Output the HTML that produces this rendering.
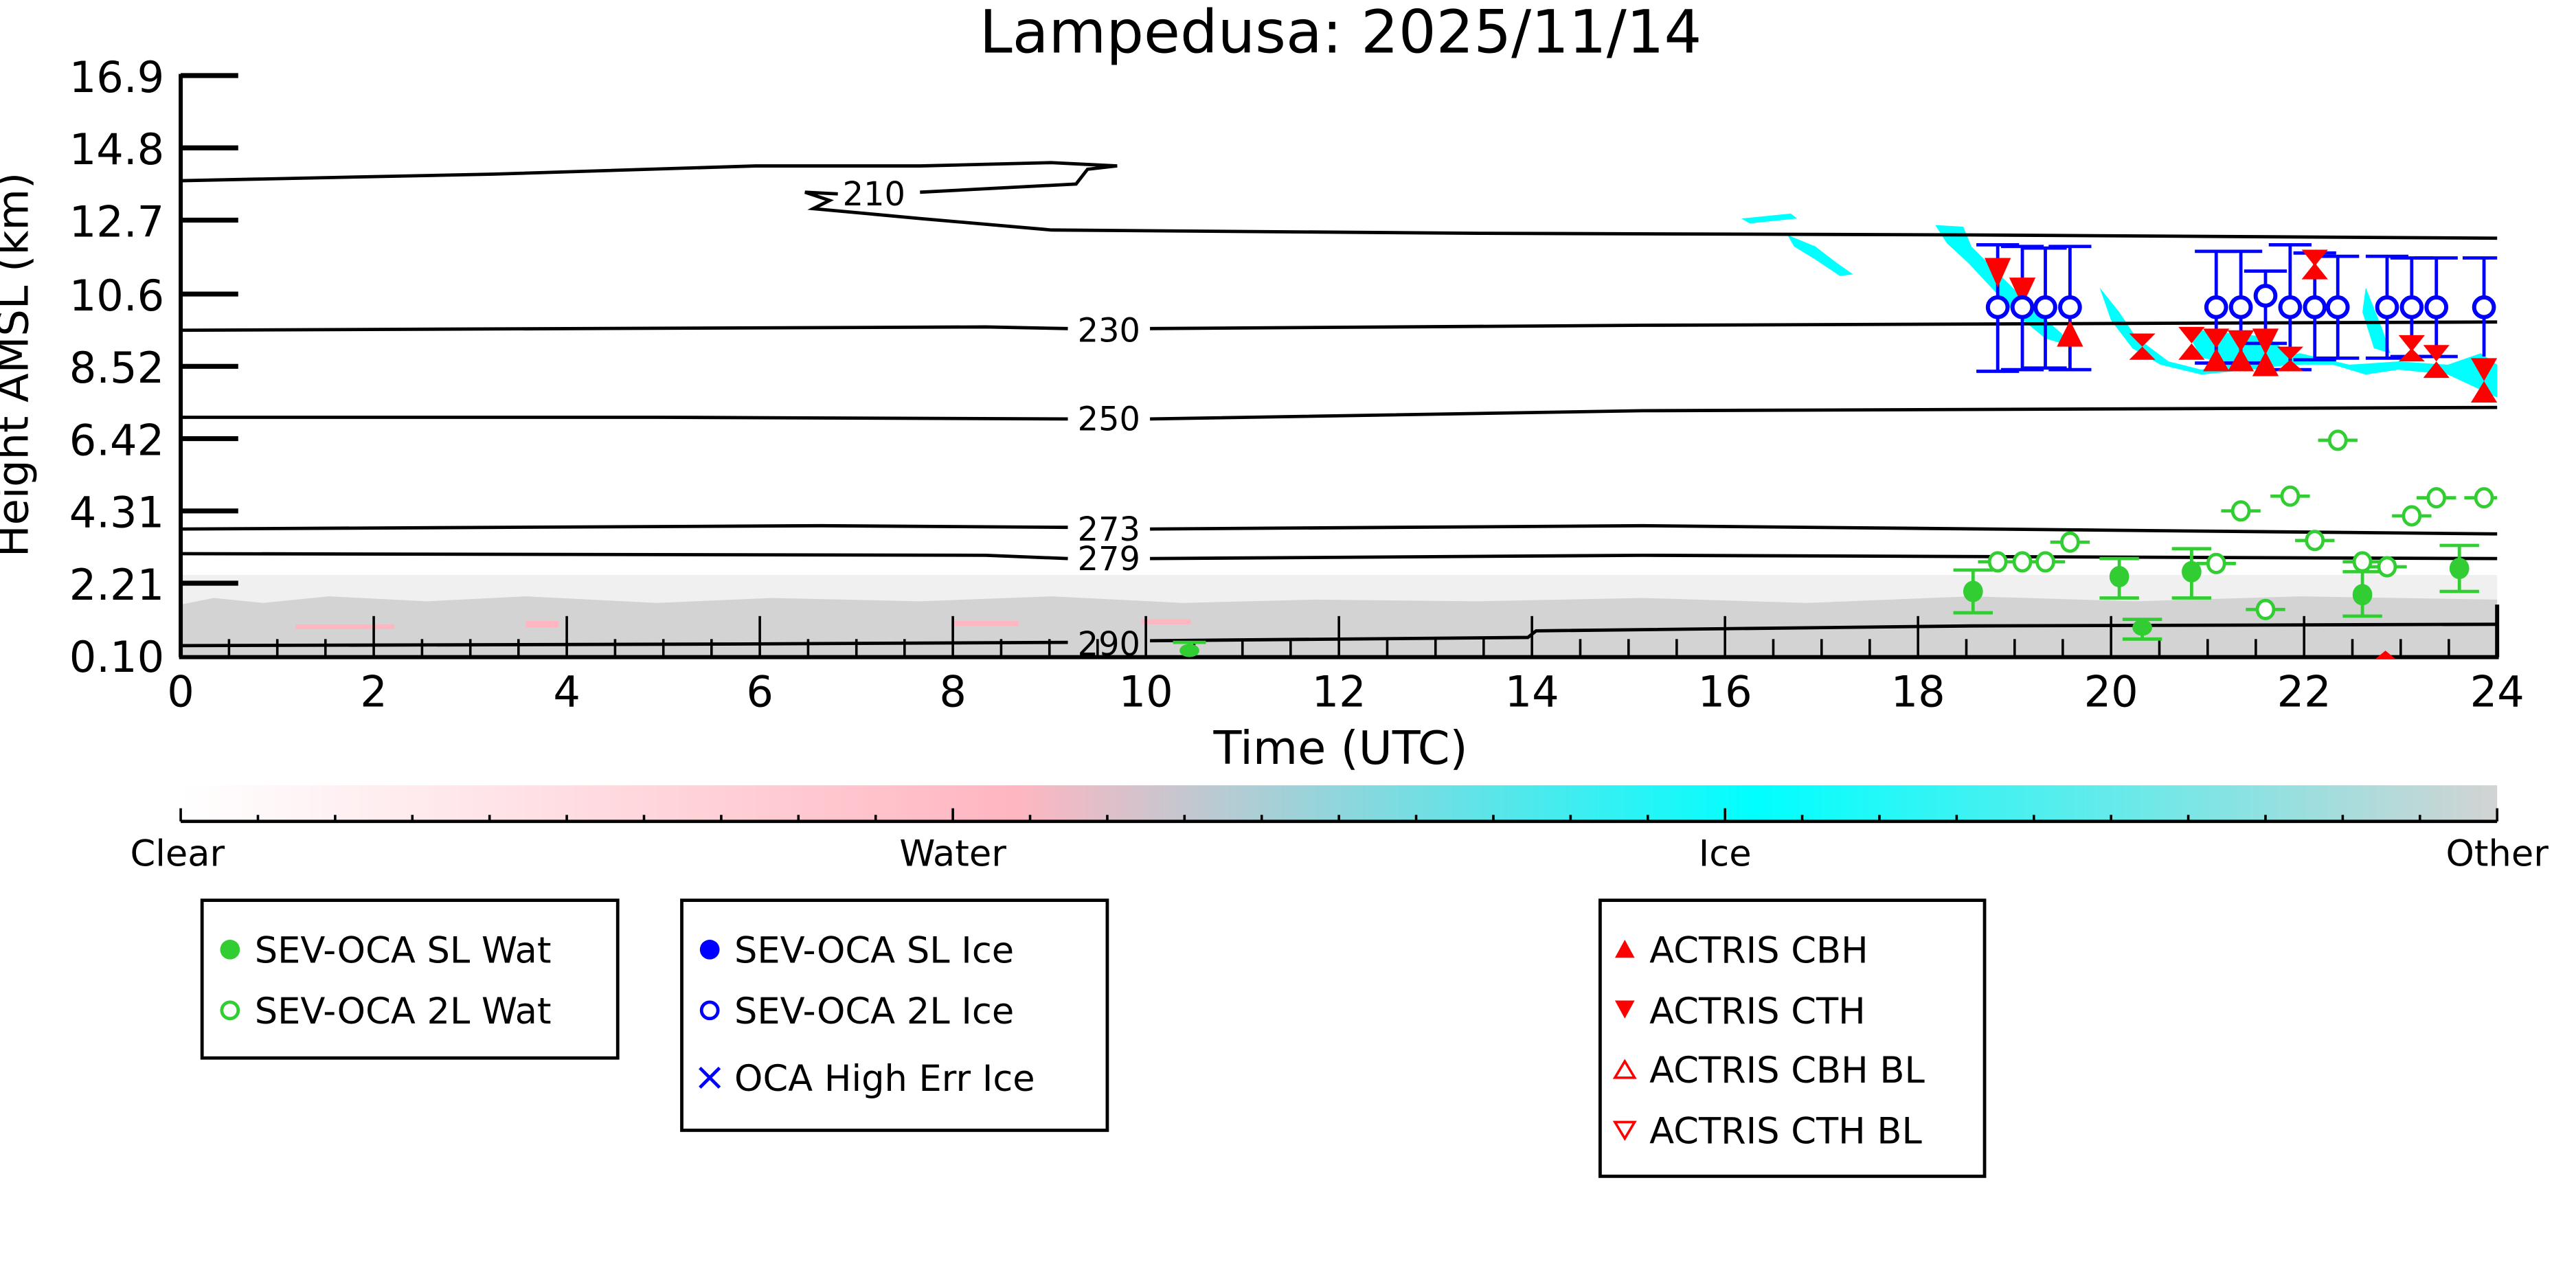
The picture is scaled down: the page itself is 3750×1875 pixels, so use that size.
<!DOCTYPE html>
<html><head><meta charset="utf-8"><style>
html,body{margin:0;padding:0;background:#fff;}
svg{display:block;}
text{font-family:"DejaVu Sans","Liberation Sans",sans-serif;}
</style></head><body>
<svg width="3750" height="1875" viewBox="0 0 1568 784" xmlns="http://www.w3.org/2000/svg">
<defs>
<linearGradient id="cb" x1="0" x2="1" y1="0" y2="0">
<stop offset="0" stop-color="#ffffff"/>
<stop offset="0.36" stop-color="#ffb6c1"/>
<stop offset="0.68" stop-color="#00ffff"/>
<stop offset="1" stop-color="#d3d3d3"/>
</linearGradient>
</defs>
<text x="816" y="32" font-size="36" text-anchor="middle">Lampedusa: 2025/11/14</text>
<!-- gray other band -->
<rect x="110" y="350" width="1410" height="18" fill="#f0f0f0"/>
<path d="M110,368 L130,364 L160,367 L200,363 L260,366 L320,363 L400,367 L470,364 L560,366 L640,363 L720,367 L800,365 L900,366 L1000,364 L1100,367 L1200,363 L1300,366 L1400,363 L1520,365 L1520,399 L110,399 Z" fill="#d3d3d3"/>
<g fill="#ffb6c1"><rect x="180" y="380" width="60" height="3"/><rect x="320" y="378" width="20" height="4"/><rect x="580" y="378" width="40" height="3"/><rect x="695" y="377" width="30" height="3"/></g>
<!-- cyan ice -->
<g fill="#00ffff">
<polygon points="1088,143 1105,150 1118,160 1128,167 1120,168 1105,158 1092,150"/>
<polygon points="1060,133 1090,130 1094,133 1065,136"/>
<polygon points="1178,137 1195,138 1200,150 1210,160 1225,175 1240,190 1255,203 1258,210 1245,206 1228,192 1212,175 1198,160 1185,148"/>
<polygon points="1278,175 1290,190 1300,205 1320,220 1340,225 1360,220 1380,218 1400,215 1430,222 1460,220 1490,222 1510,215 1520,222 1520,242 1505,235 1490,228 1460,225 1440,228 1420,222 1395,222 1370,225 1340,228 1315,222 1298,212 1285,195"/>
<polygon points="1330,200 1380,205 1400,220 1370,222 1340,218"/>
<polygon points="1440,175 1450,200 1455,215 1445,212 1438,190"/>
</g>
<!-- contours -->
<g fill="none" stroke="#000" stroke-width="2">
<path d="M110,110 L300,106 L460,101 L560,101 L640,99 L680,101 L662,103 L655,112 L560,117 M510,118 L490,117 L505,122 L495,127 L560,133 L640,140 L900,142 L1200,143 L1520,145"/>
<path d="M110,201 L600,199 L650,200 M700,200 L1000,198 L1520,196"/>
<path d="M110,254 L400,254 L650,255 M700,255 L1000,250 L1520,248"/>
<path d="M110,322 L500,320 L650,321 M700,322 L1000,320 L1520,325"/>
<path d="M110,337 L600,338 L650,340 M700,340 L1000,338 L1520,340"/>
<path d="M110,393 L450,392 L650,391 M700,390 L930,388 L935,384 L1200,381 L1520,380"/>
</g>
<g font-size="20" text-anchor="middle" fill="#000">
<text x="532" y="125">210</text>
<text x="675" y="208">230</text>
<text x="675" y="262">250</text>
<text x="675" y="329">273</text>
<text x="675" y="347">279</text>
<text x="675" y="399">290</text>
</g>
<!-- axes -->
<g stroke="#000" stroke-width="2.5">
<line x1="110" y1="45" x2="110" y2="400"/>
<line x1="109" y1="400" x2="1521" y2="400"/>
<line x1="1520" y1="368" x2="1520" y2="400"/>
</g>
<g stroke="#000" stroke-width="3">
<line x1="110" y1="46" x2="145" y2="46"/><line x1="110" y1="90" x2="145" y2="90"/>
<line x1="110" y1="134" x2="145" y2="134"/><line x1="110" y1="179" x2="145" y2="179"/>
<line x1="110" y1="223" x2="145" y2="223"/><line x1="110" y1="267" x2="145" y2="267"/>
<line x1="110" y1="311" x2="145" y2="311"/><line x1="110" y1="355" x2="145" y2="355"/>
</g>
<g stroke="#000" stroke-width="1.5">
<line x1="139.4" y1="389" x2="139.4" y2="400"/><line x1="168.8" y1="389" x2="168.8" y2="400"/><line x1="198.1" y1="389" x2="198.1" y2="400"/><line x1="227.5" y1="375" x2="227.5" y2="400"/>
<line x1="256.9" y1="389" x2="256.9" y2="400"/><line x1="286.3" y1="389" x2="286.3" y2="400"/><line x1="315.6" y1="389" x2="315.6" y2="400"/><line x1="345" y1="375" x2="345" y2="400"/>
<line x1="374.4" y1="389" x2="374.4" y2="400"/><line x1="403.8" y1="389" x2="403.8" y2="400"/><line x1="433.1" y1="389" x2="433.1" y2="400"/><line x1="462.5" y1="375" x2="462.5" y2="400"/>
<line x1="491.9" y1="389" x2="491.9" y2="400"/><line x1="521.3" y1="389" x2="521.3" y2="400"/><line x1="550.6" y1="389" x2="550.6" y2="400"/><line x1="580" y1="375" x2="580" y2="400"/>
<line x1="609.4" y1="389" x2="609.4" y2="400"/><line x1="638.8" y1="389" x2="638.8" y2="400"/><line x1="668.1" y1="389" x2="668.1" y2="400"/><line x1="697.5" y1="375" x2="697.5" y2="400"/>
<line x1="726.9" y1="389" x2="726.9" y2="400"/><line x1="756.3" y1="389" x2="756.3" y2="400"/><line x1="785.6" y1="389" x2="785.6" y2="400"/><line x1="815" y1="375" x2="815" y2="400"/>
<line x1="844.4" y1="389" x2="844.4" y2="400"/><line x1="873.8" y1="389" x2="873.8" y2="400"/><line x1="903.1" y1="389" x2="903.1" y2="400"/><line x1="932.5" y1="375" x2="932.5" y2="400"/>
<line x1="961.9" y1="389" x2="961.9" y2="400"/><line x1="991.3" y1="389" x2="991.3" y2="400"/><line x1="1020.6" y1="389" x2="1020.6" y2="400"/><line x1="1050" y1="375" x2="1050" y2="400"/>
<line x1="1079.4" y1="389" x2="1079.4" y2="400"/><line x1="1108.8" y1="389" x2="1108.8" y2="400"/><line x1="1138.1" y1="389" x2="1138.1" y2="400"/><line x1="1167.5" y1="375" x2="1167.5" y2="400"/>
<line x1="1196.9" y1="389" x2="1196.9" y2="400"/><line x1="1226.3" y1="389" x2="1226.3" y2="400"/><line x1="1255.6" y1="389" x2="1255.6" y2="400"/><line x1="1285" y1="375" x2="1285" y2="400"/>
<line x1="1314.4" y1="389" x2="1314.4" y2="400"/><line x1="1343.8" y1="389" x2="1343.8" y2="400"/><line x1="1373.1" y1="389" x2="1373.1" y2="400"/><line x1="1402.5" y1="375" x2="1402.5" y2="400"/>
<line x1="1431.9" y1="389" x2="1431.9" y2="400"/><line x1="1461.3" y1="389" x2="1461.3" y2="400"/><line x1="1490.6" y1="389" x2="1490.6" y2="400"/>
</g>
<g font-size="26" text-anchor="end">
<text x="100" y="56">16.9</text><text x="100" y="100">14.8</text><text x="100" y="144">12.7</text>
<text x="100" y="189">10.6</text><text x="100" y="233">8.52</text><text x="100" y="277">6.42</text>
<text x="100" y="321">4.31</text><text x="100" y="365">2.21</text><text x="100" y="409">0.10</text>
</g>
<g font-size="26" text-anchor="middle">
<text x="110" y="430">0</text><text x="227.5" y="430">2</text><text x="345" y="430">4</text><text x="462.5" y="430">6</text>
<text x="580" y="430">8</text><text x="697.5" y="430">10</text><text x="815" y="430">12</text><text x="932.5" y="430">14</text>
<text x="1050" y="430">16</text><text x="1167.5" y="430">18</text><text x="1285" y="430">20</text><text x="1402.5" y="430">22</text><text x="1520" y="430">24</text>
</g>
<text x="816" y="465" font-size="28" text-anchor="middle">Time (UTC)</text>
<text transform="translate(17,222) rotate(-90)" font-size="26" text-anchor="middle">Height AMSL (km)</text>
<!-- blue error bars -->
<g stroke="#0000ff" stroke-width="2" fill="none">
<path d="M1216,149V226M1203,149H1229M1203,226H1229"/>
<path d="M1231,150V225M1218,150H1244M1218,225H1244"/>
<path d="M1245,151V224M1232,151H1258M1232,224H1258"/>
<path d="M1260,150V225M1247,150H1273M1247,225H1273"/>
<path d="M1349,153V221M1336,153H1362M1336,221H1362"/>
<path d="M1364,153V221M1351,153H1377M1351,221H1377"/>
<path d="M1379,165V209M1366,165H1392M1366,209H1392"/>
<path d="M1394,149V225M1381,149H1407M1381,225H1407"/>
<path d="M1409,154V219M1396,154H1422M1396,219H1422"/>
<path d="M1423,156V218M1410,156H1436M1410,218H1436"/>
<path d="M1453,156V218M1440,156H1466M1440,218H1466"/>
<path d="M1468,157V217M1455,157H1481M1455,217H1481"/>
<path d="M1483,157V217M1470,157H1496M1470,217H1496"/>
<path d="M1512,157V217M1499,157H1520"/>
</g>
<!-- red triangles: down (CTH) and up (CBH) -->
<g fill="#ff0000">
<polygon points="1208,157 1224,157 1216,175"/>
<polygon points="1223,169 1239,169 1231,186"/>
<polygon points="1260,195 1252,211 1268,211"/>
<polygon points="1296,203 1312,203 1304,211"/><polygon points="1304,211 1296,219 1312,219"/>
<polygon points="1326,199 1342,199 1334,209"/><polygon points="1334,209 1326,219 1342,219"/>
<polygon points="1341,200 1357,200 1349,212"/><polygon points="1349,212 1341,226 1357,226"/>
<polygon points="1356,201 1372,201 1364,214"/><polygon points="1364,212 1356,226 1372,226"/>
<polygon points="1371,200 1387,200 1379,216"/><polygon points="1379,214 1371,229 1387,229"/>
<polygon points="1386,211 1402,211 1394,219"/><polygon points="1394,219 1386,226 1402,226"/>
<polygon points="1401,152 1417,152 1409,162"/><polygon points="1409,160 1401,170 1417,170"/>
<polygon points="1460,204 1476,204 1468,214"/><polygon points="1468,212 1460,220 1476,220"/>
<polygon points="1475,210 1491,210 1483,220"/><polygon points="1483,220 1475,230 1491,230"/>
<polygon points="1504,218 1520,218 1512,232"/><polygon points="1512,232 1504,245 1520,245"/>
<polygon points="1452,396 1446,401 1458,401"/>
</g>
<g stroke="#0000ff" stroke-width="2.5" fill="#fff">
<ellipse cx="1216" cy="187" rx="6" ry="6"/><ellipse cx="1231" cy="187" rx="6" ry="6"/>
<ellipse cx="1245" cy="187" rx="6" ry="6"/><ellipse cx="1260" cy="187" rx="6" ry="6"/>
<ellipse cx="1349" cy="187" rx="6" ry="6"/><ellipse cx="1364" cy="187" rx="6" ry="6"/>
<ellipse cx="1379" cy="180" rx="6" ry="6"/><ellipse cx="1394" cy="187" rx="6" ry="6"/>
<ellipse cx="1409" cy="187" rx="6" ry="6"/><ellipse cx="1423" cy="187" rx="6" ry="6"/>
<ellipse cx="1453" cy="187" rx="6" ry="6"/><ellipse cx="1468" cy="187" rx="6" ry="6"/>
<ellipse cx="1483" cy="187" rx="6" ry="6"/><ellipse cx="1512" cy="187" rx="6" ry="6"/>
</g>
<!-- green -->
<g stroke="#32cd32" stroke-width="2" fill="none">
<path d="M1201,347V373M1189,347H1213M1189,373H1213"/>
<path d="M1290,340V364M1278,340H1302M1278,364H1302"/>
<path d="M1304,377V389M1292,377H1316M1292,389H1316"/>
<path d="M1334,334V364M1322,334H1346M1322,364H1346"/>
<path d="M1438,348V375M1426,348H1450M1426,375H1450"/>
<path d="M1497,332V360M1485,332H1509M1485,360H1509"/>
<path d="M724,391V399M714,391H734"/>
<path d="M1204,342H1228M1219,342H1243M1233,342H1257M1248,330H1272M1337,343H1361M1352,311H1376M1367,371H1391M1382,302H1406M1397,329H1421M1411,268H1435M1426,342H1450M1441,345H1465M1456,314H1480M1471,303H1495M1500,303H1520"/>
</g>
<g fill="#32cd32">
<ellipse cx="1201" cy="360" rx="6" ry="6.5"/><ellipse cx="1290" cy="351" rx="6" ry="6.5"/>
<ellipse cx="1304" cy="382" rx="6" ry="5"/><ellipse cx="1334" cy="348" rx="6" ry="6.5"/>
<ellipse cx="1438" cy="362" rx="6" ry="6.5"/><ellipse cx="1497" cy="346" rx="6" ry="6.5"/>
<ellipse cx="724" cy="396" rx="6" ry="4"/>
</g>
<g stroke="#32cd32" stroke-width="2" fill="#fff">
<ellipse cx="1216" cy="342" rx="5" ry="5.5"/><ellipse cx="1231" cy="342" rx="5" ry="5.5"/>
<ellipse cx="1245" cy="342" rx="5" ry="5.5"/><ellipse cx="1260" cy="330" rx="5" ry="5.5"/>
<ellipse cx="1349" cy="343" rx="5" ry="5.5"/><ellipse cx="1364" cy="311" rx="5" ry="5.5"/>
<ellipse cx="1379" cy="371" rx="5" ry="5.5"/><ellipse cx="1394" cy="302" rx="5" ry="5.5"/>
<ellipse cx="1409" cy="329" rx="5" ry="5.5"/><ellipse cx="1423" cy="268" rx="5" ry="5.5"/>
<ellipse cx="1438" cy="342" rx="5" ry="5.5"/><ellipse cx="1453" cy="345" rx="5" ry="5.5"/>
<ellipse cx="1468" cy="314" rx="5" ry="5.5"/><ellipse cx="1483" cy="303" rx="5" ry="5.5"/>
<ellipse cx="1512" cy="303" rx="5" ry="5.5"/>
</g>
<!-- colorbar -->
<rect x="110" y="478" width="1410" height="22" fill="url(#cb)"/>
<line x1="110" y1="500" x2="1520" y2="500" stroke="#000" stroke-width="2"/>
<g stroke="#000" stroke-width="1.5">
<path d="M110,492V500M157,496V500M204,496V500M251,496V500M298,496V500M345,496V500M392,496V500M439,496V500M486,496V500M533,496V500M580,492V500M627,496V500M674,496V500M721,496V500M768,496V500M815,496V500M862,496V500M909,496V500M956,496V500M1003,496V500M1050,492V500M1097,496V500M1144,496V500M1191,496V500M1238,496V500M1285,496V500M1332,496V500M1379,496V500M1426,496V500M1473,496V500M1520,492V500"/>
</g>
<g font-size="22" text-anchor="middle">
<text x="108" y="527">Clear</text><text x="580" y="527">Water</text><text x="1050" y="527">Ice</text><text x="1520" y="527">Other</text>
</g>
<!-- legends -->
<g fill="none" stroke="#000" stroke-width="2">
<rect x="123" y="548" width="253" height="96"/>
<rect x="415" y="548" width="259" height="140"/>
<rect x="974" y="548" width="234" height="168"/>
</g>
<g font-size="22">
<circle cx="140" cy="578" r="6" fill="#32cd32"/><text x="155" y="586">SEV-OCA SL Wat</text>
<circle cx="140" cy="615" r="5" fill="none" stroke="#32cd32" stroke-width="2"/><text x="155" y="623">SEV-OCA 2L Wat</text>
<circle cx="432" cy="578" r="6" fill="#0000ff"/><text x="447" y="586">SEV-OCA SL Ice</text>
<circle cx="432" cy="615" r="5" fill="none" stroke="#0000ff" stroke-width="2"/><text x="447" y="623">SEV-OCA 2L Ice</text>
<path d="M426,650L438,662M438,650L426,662" stroke="#0000ff" stroke-width="2"/><text x="447" y="664">OCA High Err Ice</text>
<polygon points="989,572 983,583 995,583" fill="#ff0000"/><text x="1004" y="586">ACTRIS CBH</text>
<polygon points="983,609 995,609 989,620" fill="#ff0000"/><text x="1004" y="623">ACTRIS CTH</text>
<polygon points="989,646 983,656 995,656" fill="none" stroke="#ff0000" stroke-width="1.5"/><text x="1004" y="659">ACTRIS CBH BL</text>
<polygon points="983,683 995,683 989,693" fill="none" stroke="#ff0000" stroke-width="1.5"/><text x="1004" y="696">ACTRIS CTH BL</text>
</g>
</svg>
</body></html>
